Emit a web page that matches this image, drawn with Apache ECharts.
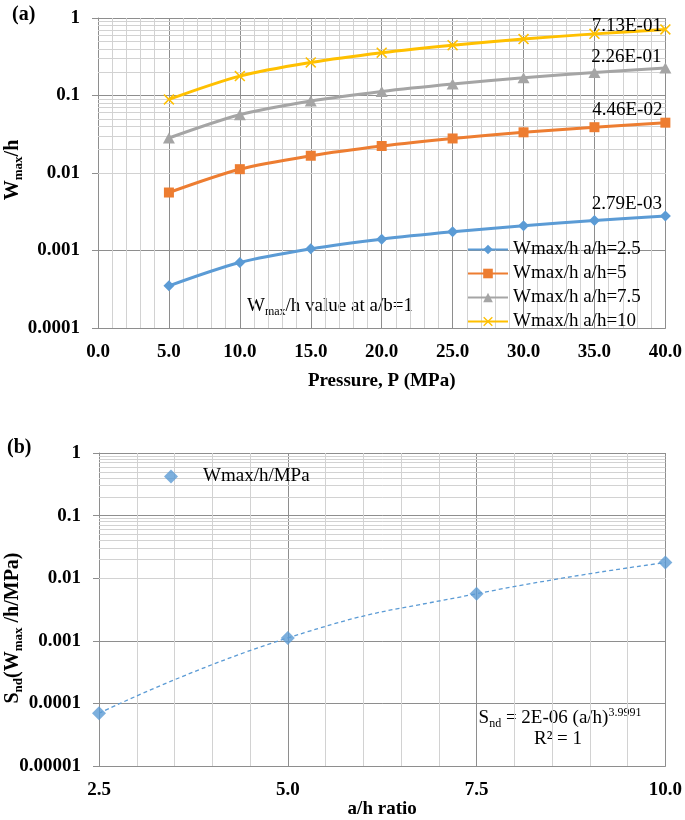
<!DOCTYPE html>
<html><head><meta charset="utf-8">
<script src="https://cdn.jsdelivr.net/npm/echarts@6/dist/echarts.min.js"></script>
<style>html,body{margin:0;padding:0;background:#fff}#c{width:685px;height:820px}</style>
</head><body><div id="c"></div>
<script>
// ---------- data ----------
const pressure = [5, 10, 15, 20, 25, 30, 35, 40];
const wAh25 = [3.5e-4, 7.0e-4, 1.05e-3, 1.40e-3, 1.74e-3, 2.09e-3, 2.44e-3, 2.79e-3];
const wAh5  = [5.6e-3, 1.12e-2, 1.67e-2, 2.23e-2, 2.79e-2, 3.35e-2, 3.90e-2, 4.46e-2];
const wAh75 = [2.83e-2, 5.65e-2, 8.5e-2, 0.113, 0.141, 0.170, 0.198, 0.226];
const wAh10 = [8.9e-2, 0.178, 0.267, 0.357, 0.446, 0.535, 0.624, 0.713];
const seriesNamesA = ['Wmax/h a/h=2.5', 'Wmax/h a/h=5', 'Wmax/h a/h=7.5', 'Wmax/h a/h=10'];
const ahRatio = [2.5, 5.0, 7.5, 10.0];
const sndValues = [6.98e-5, 1.115e-3, 5.65e-3, 1.78e-2];
const seriesNameB = 'Wmax/h/MPa';

// ---------- styling ----------
const FONT = "'Liberation Serif','Times New Roman',serif";
const MAJOR = '#8e8e8e', MINOR = '#d2d2d2';
const COLORS = ['#5B9BD5', '#ED7D31', '#A5A5A5', '#FFC000'];
const XSYM = 'path://M0,1 L1,0 L5,4 L9,0 L10,1 L6,5 L10,9 L9,10 L5,6 L1,10 L0,9 L4,5 Z';
const SYMBOLS = ['diamond', 'rect', 'triangle', XSYM];
const SYMSIZES = [11, 10, [12, 11], 11];
const LABEL_OFFSETS = [[7, -12], [7, -13], [7, -11], [7, -3]];

function fmtE(v) {
  const parts = v.toExponential(2).split('e');
  const n = parseInt(parts[1], 10);
  return parts[0] + 'E' + (n < 0 ? '-' : '+') + String(Math.abs(n)).padStart(2, '0');
}
function fmtLog(v) {
  const e = Math.round(Math.log10(v));
  return e >= 0 ? String(Math.pow(10, e)) : Math.pow(10, e).toFixed(-e);
}
function minorLogLines(minExp, maxExp) {
  const out = [];
  for (let e = minExp; e < maxExp; e++) {
    for (let k = 2; k <= 9; k++) out.push({ yAxis: k * Math.pow(10, e) });
  }
  return out;
}

const tickLabel = { fontFamily: FONT, fontSize: 19, fontWeight: 'bold', color: '#000' };

const seriesA = [wAh25, wAh5, wAh75, wAh10].map((vals, k) => ({
  type: 'line', name: seriesNamesA[k], xAxisIndex: 0, yAxisIndex: 0,
  smooth: 0.3, symbol: SYMBOLS[k], symbolSize: SYMSIZES[k], z: 4,
  lineStyle: { color: COLORS[k], width: 3 },
  itemStyle: { color: COLORS[k] },
  data: pressure.map((p, i) => i === pressure.length - 1 ? {
    value: [p, vals[i]],
    label: { show: true, position: 'left', offset: LABEL_OFFSETS[k], formatter: fmtE(vals[i]),
      fontFamily: FONT, fontSize: 19, color: '#000' }
  } : [p, vals[i]])
}));

const option = {
  animation: false,
  backgroundColor: '#fff',
  grid: [
    { left: 98, top: 18, width: 568, height: 310 },
    { left: 99, top: 453, width: 567, height: 320 }
  ],
  xAxis: [
    { type: 'value', gridIndex: 0, min: 0, max: 40, interval: 5,
      name: 'Pressure, P (MPa)', nameLocation: 'middle', nameGap: 44,
      nameTextStyle: { fontFamily: FONT, fontSize: 19, fontWeight: 'bold', color: '#000' },
      axisLine: { show: true, lineStyle: { color: MAJOR } }, axisTick: { show: false },
      axisLabel: Object.assign({ margin: 15, formatter: v => v.toFixed(1) }, tickLabel),
      splitLine: { show: true, lineStyle: { color: MAJOR } },
      minorTick: { show: false, splitNumber: 5 },
      minorSplitLine: { show: true, lineStyle: { color: MINOR } } },
    { type: 'value', gridIndex: 1, min: 2.5, max: 10, interval: 2.5,
      name: 'a/h ratio', nameLocation: 'middle', nameGap: 26,
      nameTextStyle: { fontFamily: FONT, fontSize: 19, fontWeight: 'bold', color: '#000' },
      axisLine: { show: true, lineStyle: { color: MAJOR } }, axisTick: { show: false },
      axisLabel: Object.assign({ margin: 14, formatter: v => v.toFixed(1) }, tickLabel),
      splitLine: { show: true, lineStyle: { color: MAJOR } },
      minorTick: { show: false, splitNumber: 5 },
      minorSplitLine: { show: true, lineStyle: { color: MINOR } } }
  ],
  yAxis: [
    { type: 'log', logBase: 10, gridIndex: 0, min: 1e-4, max: 1, splitNumber: 4,
      axisLine: { show: true, lineStyle: { color: MAJOR } },
      axisTick: { show: true, length: 6, lineStyle: { color: MAJOR } },
      axisLabel: Object.assign({ margin: 18, formatter: fmtLog }, tickLabel),
      splitLine: { show: true, lineStyle: { color: MAJOR } } },
    { type: 'log', logBase: 10, gridIndex: 1, min: 1e-5, max: 1, splitNumber: 5,
      axisLine: { show: true, lineStyle: { color: MAJOR } },
      axisTick: { show: true, length: 6, lineStyle: { color: MAJOR } },
      axisLabel: Object.assign({ margin: 18, formatter: fmtLog }, tickLabel),
      splitLine: { show: true, lineStyle: { color: MAJOR } } }
  ],
  legend: [
    { data: seriesNamesA, orient: 'vertical', left: 467, top: 240, padding: 0,
      itemWidth: 40, itemHeight: 12, itemGap: 5,
      textStyle: { fontFamily: FONT, fontSize: 19, color: '#000' } },
    { data: [seriesNameB], orient: 'vertical', left: 164, top: 467, padding: 0,
      itemWidth: 14, itemHeight: 14, symbolKeepAspect: true,
      textStyle: { fontFamily: FONT, fontSize: 19, color: '#000', padding: [0, 0, 0, 20] } }
  ],
  series: [
    { type: 'line', name: 'minorA', xAxisIndex: 0, yAxisIndex: 0, data: [], silent: true, z: 1,
      markLine: { silent: true, symbol: 'none', z: 1, label: { show: false },
        lineStyle: { color: MINOR, type: 'solid', width: 1 }, emphasis: { disabled: true },
        data: minorLogLines(-4, 0) } },
    { type: 'line', name: 'minorB', xAxisIndex: 1, yAxisIndex: 1, data: [], silent: true, z: 1,
      markLine: { silent: true, symbol: 'none', z: 1, label: { show: false },
        lineStyle: { color: MINOR, type: 'solid', width: 1 }, emphasis: { disabled: true },
        data: minorLogLines(-5, 0) } },
    ...seriesA,
    { type: 'line', name: 'trend', xAxisIndex: 1, yAxisIndex: 1, smooth: true, symbol: 'none', z: 3,
      lineStyle: { color: '#5B9BD5', width: 1.3, type: [4, 3] },
      data: ahRatio.map((a, i) => [a, sndValues[i]]) },
    { type: 'scatter', name: seriesNameB, xAxisIndex: 1, yAxisIndex: 1, symbol: 'diamond', symbolSize: 14, z: 5,
      itemStyle: { color: '#5B9BD5' },
      data: ahRatio.map((a, i) => [a, sndValues[i]]) }
  ],
  graphic: [
    { type: 'text', x: 12, y: 15, style: { text: '(a)', font: "bold 20px " + FONT, fill: '#000',
      align: 'left', verticalAlign: 'middle', textAlign: 'left', textVerticalAlign: 'middle' } },
    { type: 'text', x: 7, y: 448, style: { text: '(b)', font: "bold 20px " + FONT, fill: '#000',
      align: 'left', verticalAlign: 'middle', textAlign: 'left', textVerticalAlign: 'middle' } },
    { type: 'text', x: 247, y: 306, style: {
      text: '{n|W}{s|max}{n|/h value at a/b=1}', fill: '#000',
      align: 'left', verticalAlign: 'middle', textAlign: 'left', textVerticalAlign: 'middle',
      rich: { n: { fontFamily: FONT, fontSize: 19, color: '#000' },
              s: { fontFamily: FONT, fontSize: 12, color: '#000', padding: [11, 0, 0, 0] } } } },
    { type: 'text', x: 13, y: 170, rotation: Math.PI / 2, style: {
      text: '{n|W}{s|max}{n|/h}', fill: '#000',
      align: 'center', verticalAlign: 'middle', textAlign: 'center', textVerticalAlign: 'middle',
      rich: { n: { fontFamily: FONT, fontSize: 20, fontWeight: 'bold', color: '#000' },
              s: { fontFamily: FONT, fontSize: 13, fontWeight: 'bold', color: '#000', padding: [11, 0, 0, 0] } } } },
    { type: 'text', x: 13, y: 628, rotation: Math.PI / 2, style: {
      text: '{n|S}{s|nd}{n|(W}{s|max}{n| /h/MPa)}', fill: '#000',
      align: 'center', verticalAlign: 'middle', textAlign: 'center', textVerticalAlign: 'middle',
      rich: { n: { fontFamily: FONT, fontSize: 20, fontWeight: 'bold', color: '#000' },
              s: { fontFamily: FONT, fontSize: 13, fontWeight: 'bold', color: '#000', padding: [11, 0, 0, 0] } } } },
    { type: 'text', x: 560, y: 718, style: {
      text: '{n|S}{s|nd}{n| = 2E-06 (a/h)}{p|3.9991}', fill: '#000',
      align: 'center', verticalAlign: 'middle', textAlign: 'center', textVerticalAlign: 'middle',
      rich: { n: { fontFamily: FONT, fontSize: 19, color: '#000' },
              s: { fontFamily: FONT, fontSize: 12, color: '#000', padding: [11, 0, 0, 0] },
              p: { fontFamily: FONT, fontSize: 12, color: '#000', padding: [0, 0, 11, 0] } } } },
    { type: 'text', x: 558, y: 739, style: { text: 'R² = 1', font: "19px " + FONT, fill: '#000',
      align: 'center', verticalAlign: 'middle', textAlign: 'center', textVerticalAlign: 'middle' } }
  ]
};

const chart = echarts.init(document.getElementById('c'), null, { renderer: 'canvas' });
chart.setOption(option);
</script>
</body></html>
